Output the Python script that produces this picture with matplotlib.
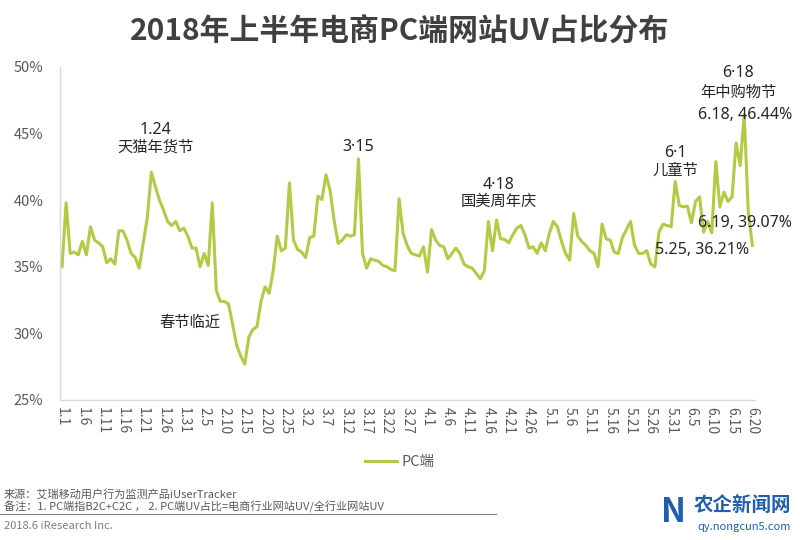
import matplotlib
matplotlib.use("Agg")
import matplotlib.pyplot as plt

plt.rcParams["font.family"] = ["Noto Sans CJK SC", "DejaVu Sans"]

# ------------------------------ Data ------------------------------

TITLE = "2018年上半年电商PC端网站UV占比分布"
SERIES = "PC端"

# daily PC share (%), 1.1 ... 6.20
PC_UV = [
    35.0, 39.8, 36.0, 36.1, 35.9, 36.9, 35.9, 38.0, 37.0, 36.8,
    36.5, 35.3, 35.6, 35.2, 37.7, 37.7, 37.0, 36.0, 35.7, 34.9,
    36.8, 38.7, 42.1, 41.0, 40.0, 39.25, 38.4, 38.1, 38.4, 37.7,
    37.9, 37.3, 36.4, 36.4, 35.0, 36.0, 35.1, 39.8, 33.2, 32.4,
    32.4, 32.2, 30.7, 29.1, 28.3, 27.7, 29.7, 30.3, 30.5, 32.4,
    33.5, 33.0, 34.7, 37.3, 36.2, 36.4, 41.3, 37.0, 36.3, 36.1,
    35.7, 37.2, 37.3, 40.3, 40.05, 41.9, 40.75, 38.5, 36.75, 37.0,
    37.4, 37.3, 37.4, 43.1, 36.0, 34.9, 35.6, 35.5, 35.4, 35.1,
    35.0, 34.8, 34.7, 40.1, 37.5, 36.6, 36.0, 35.9, 35.8, 36.5,
    34.6, 37.8, 37.0, 36.6, 36.5, 35.6, 36.0, 36.4, 36.0, 35.2,
    35.0, 34.9, 34.5, 34.1, 34.7, 38.4, 36.2, 38.5, 37.1, 37.05,
    36.8, 37.4, 37.9, 38.1, 37.4, 36.4, 36.5, 36.0, 36.8, 36.2,
    37.5, 38.4, 38.0, 36.9, 36.0, 35.5, 39.0, 37.3, 36.9, 36.6,
    36.2, 36.0, 35.0, 38.2, 37.1, 37.0, 36.1, 36.0, 37.2, 37.8,
    38.4, 36.6, 36.0, 36.0, 36.21, 35.2, 35.0, 37.6, 38.2, 38.1,
    38.0, 41.4, 39.6, 39.5, 39.55, 38.3, 39.9, 40.25, 37.6, 38.4,
    37.55, 42.9, 39.5, 40.6, 39.9, 40.25, 44.3, 42.6, 46.44, 39.07,
    36.6,
]

TICK_LABELS = [
    "1.1", "1.6", "1.11", "1.16", "1.21", "1.26", "1.31", "2.5", "2.10",
    "2.15", "2.20", "2.25", "3.2", "3.7", "3.12", "3.17", "3.22", "3.27",
    "4.1", "4.6", "4.11", "4.16", "4.21", "4.26", "5.1", "5.6", "5.11",
    "5.16", "5.21", "5.26", "5.31", "6.5", "6.10", "6.15", "6.20",
]
Y_TICKS = [25, 30, 35, 40, 45, 50]

# event notes: date line and name line, (text, day index, value %)
EVENT_DATES = [
    ("1.24", 23, 45.27),
    ("3·15", 73, 44.0),
    ("4·18", 107.5, 41.14),
    ("6·1", 151, 43.54),
    ("6·18", 166.5, 49.55),
]
EVENT_NAMES = [
    ("天猫年货节", 23, 44.0),
    ("春节临近", 31.5, 30.86),
    ("国美周年庆", 107.5, 39.94),
    ("儿童节", 151, 42.27),
    ("年中购物节", 166.5, 48.05),
]
VALUE_NOTES = [
    ("6.18, 46.44%", 168.2, 46.4),
    ("6.19, 39.07%", 168.2, 38.3),
    ("5.25, 36.21%", 157.5, 36.26),
]

# ------------------------------ Style ------------------------------

LINE_C = "#b2cb45"
GRAY = "#595959"
AXIS_C = "#d9d9d9"
NOTE_C = "#262626"

fig = plt.figure(figsize=(8, 5.4), dpi=100)
ax = fig.add_axes([0.075, 0.2593, 0.869, 0.6167])

days = list(range(len(PC_UV)))
ax.plot(days, PC_UV, color=LINE_C, lw=2.2, label=SERIES)

ax.set_xlim(-0.5, 170.7)
ax.set_ylim(25, 50)
ax.set_yticks(Y_TICKS)
ax.set_yticklabels([f"{v}%" for v in Y_TICKS])
ax.set_xticks(list(range(0, len(PC_UV), 5)))
ax.set_xticklabels(TICK_LABELS, rotation=-90)
ax.tick_params(axis="both", length=0, colors=GRAY, labelsize=10.5)
ax.tick_params(axis="x", pad=5, labelsize=10)
ax.tick_params(axis="y", pad=12)

for s in ("top", "right"):
    ax.spines[s].set_visible(False)
for s in ("left", "bottom"):
    ax.spines[s].set_color(AXIS_C)
    ax.spines[s].set_linewidth(1.0)

for txt, d, v in EVENT_DATES:
    ax.text(d, v, txt, ha="center", va="center", fontsize=11.5,
            color=NOTE_C, family=["Noto Sans", "DejaVu Sans"])
for txt, d, v in EVENT_NAMES:
    ax.text(d, v, txt, ha="center", va="center", fontsize=11, color=NOTE_C)
for txt, d, v in VALUE_NOTES:
    ax.text(d, v, txt, ha="center", va="center", fontsize=11.5,
            color=NOTE_C, family=["Noto Sans", "DejaVu Sans"])

fig.text(0.5, 1 - 31 / 540, TITLE, ha="center", va="center",
         fontsize=21.5, fontweight="bold", color="#404040")

fig.legend(loc="center", bbox_to_anchor=(0.5, 1 - 462 / 540), frameon=False,
           fontsize=10.5, handlelength=2.2, handletextpad=0.3, labelcolor=GRAY)

# footer
fig.text(0.005, 1 - 494 / 540, "来源：艾瑞移动用户行为监测产品iUserTracker",
         fontsize=8, color=GRAY, va="center")
fig.text(0.005, 1 - 507 / 540,
         "备注：1. PC端指B2C+C2C ， 2. PC端UV占比=电商行业网站UV/全行业网站UV",
         fontsize=8, color=GRAY, va="center")
fig.add_artist(plt.Line2D([0, 0.62], [1 - 514 / 540, 1 - 514 / 540],
                          color="#7f7f7f", lw=0.8))
fig.text(0.005, 1 - 526 / 540, "2018.6 iResearch Inc.", fontsize=8,
         color="#7f7f7f", va="center")

# watermark
fig.text(0.842, 1 - 512 / 540, "N", fontsize=24, fontweight="bold",
         color="#1f5fae", ha="center", va="center")
fig.text(0.928, 1 - 505 / 540, "农企新闻网", fontsize=14, fontweight="bold",
         color="#1f5fae", ha="center", va="center")
fig.text(0.93, 1 - 527 / 540, "qy.nongcun5.com", fontsize=8,
         color="#1f5fae", ha="center", va="center")

fig.savefig("out.png", dpi=100, facecolor="white")
